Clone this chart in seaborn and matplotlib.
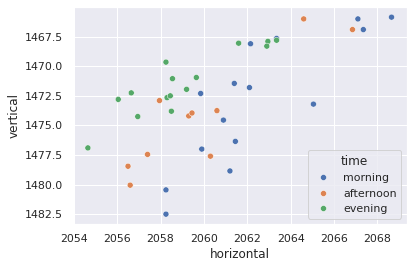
import pandas as pd
import matplotlib.pyplot as plt
import seaborn as sns

sns.set_theme()

# values
morning_x = [2067.1, 2068.65, 2067.35, 2062.15, 2063.35, 2061.4, 2062.1, 2059.85,
             2065.05, 2060.9, 2061.45, 2059.9, 2061.2, 2058.25, 2058.25]
morning_y = [1466.0, 1465.85, 1466.9, 1468.1, 1467.65, 1471.45, 1471.8, 1472.3,
             1473.2, 1474.55, 1476.35, 1477.0, 1478.85, 1480.45, 1482.5]

afternoon_x = [2064.6, 2066.85, 2057.95, 2059.3, 2059.45, 2060.6, 2057.4, 2060.3,
               2056.5, 2056.6]
afternoon_y = [1466.0, 1466.9, 1472.9, 1474.2, 1473.95, 1473.75, 1477.45, 1477.6,
               1478.45, 1480.05]

evening_x = [2061.6, 2062.95, 2062.9, 2063.35, 2058.25, 2058.55, 2059.65, 2059.2,
             2056.65, 2056.05, 2058.3, 2058.45, 2058.5, 2056.95, 2054.65]
evening_y = [1468.05, 1467.9, 1468.3, 1467.8, 1469.65, 1471.05, 1470.95, 1471.95,
             1472.25, 1472.8, 1472.65, 1472.5, 1473.8, 1474.25, 1476.9]

times = ['morning', 'afternoon', 'evening']

df = pd.concat([
    pd.DataFrame({'horizontal': morning_x, 'vertical': morning_y, 'time': 'morning'}),
    pd.DataFrame({'horizontal': afternoon_x, 'vertical': afternoon_y, 'time': 'afternoon'}),
    pd.DataFrame({'horizontal': evening_x, 'vertical': evening_y, 'time': 'evening'}),
], ignore_index=True)

fig, ax = plt.subplots(figsize=(414 / 72, 268 / 72), dpi=72)
sns.scatterplot(data=df, x='horizontal', y='vertical', hue='time',
                hue_order=times, ax=ax)
ax.invert_yaxis()
ax.set_xticks(range(2054, 2070, 2))
ax.set_yticks([1467.5, 1470.0, 1472.5, 1475.0, 1477.5, 1480.0, 1482.5])
ax.legend(title='time', loc='lower right')

fig.subplots_adjust(left=72.7 / 414, right=406.7 / 414,
                    top=1 - 7.3 / 268, bottom=1 - 224 / 268)
fig.savefig('out.png', dpi=72)
